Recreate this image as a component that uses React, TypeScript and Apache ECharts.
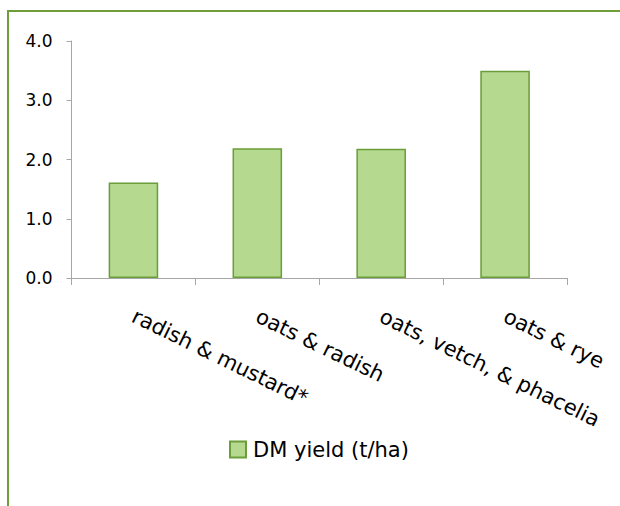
import React, { useEffect, useRef } from "react";
import * as echarts from "echarts";

const categories = ["radish & mustard*", "oats & radish", "oats, vetch, & phacelia", "oats & rye"];
const dmYield = [1.61, 2.19, 2.18, 3.5];
const seriesName = "DM yield (t/ha)";

const FONT = "DejaVu Sans";
const BAR_FILL = "#b4d98f";
const BAR_STROKE = "#6b9d38";
const AXIS_GRAY = "#a6a6a6";

export default function App() {
  const ref = useRef<HTMLDivElement>(null);
  useEffect(() => {
    if (!ref.current) return;
    const chart = echarts.init(ref.current, undefined, { renderer: "svg" });
    chart.setOption({
      animation: false,
      backgroundColor: "#ffffff",
      graphic: [
        {
          type: "rect",
          shape: { x: 8, y: 11, width: 800, height: 700 },
          style: { fill: "none", stroke: "#6f9d3a", lineWidth: 2 },
          silent: true,
        },
      ],
      grid: { left: 71.5, right: 53, top: 41, bottom: 228, containLabel: false },
      legend: {
        left: 229,
        top: 439,
        padding: 0,
        itemWidth: 16,
        itemHeight: 16,
        icon: "rect",
        itemGap: 10,
        textStyle: { fontFamily: FONT, fontSize: 21, color: "#000", padding: [0, 0, 0, 2] },
        data: [seriesName],
      },
      xAxis: {
        type: "category",
        data: categories,
        boundaryGap: true,
        axisLine: { show: true, lineStyle: { color: AXIS_GRAY, width: 1 } },
        axisTick: { show: true, alignWithLabel: false, length: 7, lineStyle: { color: AXIS_GRAY } },
        axisLabel: {
          rotate: -26,
          interval: 0,
          margin: 37,
          color: "#000",
          fontFamily: FONT,
          fontSize: 21,
        },
      },
      yAxis: {
        type: "value",
        min: 0,
        max: 4,
        interval: 1,
        splitLine: { show: false },
        axisLine: { show: true, lineStyle: { color: AXIS_GRAY, width: 1 } },
        axisTick: { show: true, length: 5, lineStyle: { color: AXIS_GRAY } },
        axisLabel: {
          margin: 19,
          color: "#000",
          fontFamily: FONT,
          fontSize: 17,
          formatter: (v: number) => v.toFixed(1),
        },
      },
      series: [
        {
          name: seriesName,
          type: "bar",
          data: dmYield,
          barWidth: "40%",
          itemStyle: { color: BAR_FILL, borderColor: BAR_STROKE, borderWidth: 1.5 },
        },
      ],
    });
    return () => chart.dispose();
  }, []);
  return (
    <div
      ref={ref}
      style={{ position: "fixed", left: 0, top: 0, width: 620, height: 506, background: "#fff" }}
    />
  );
}
